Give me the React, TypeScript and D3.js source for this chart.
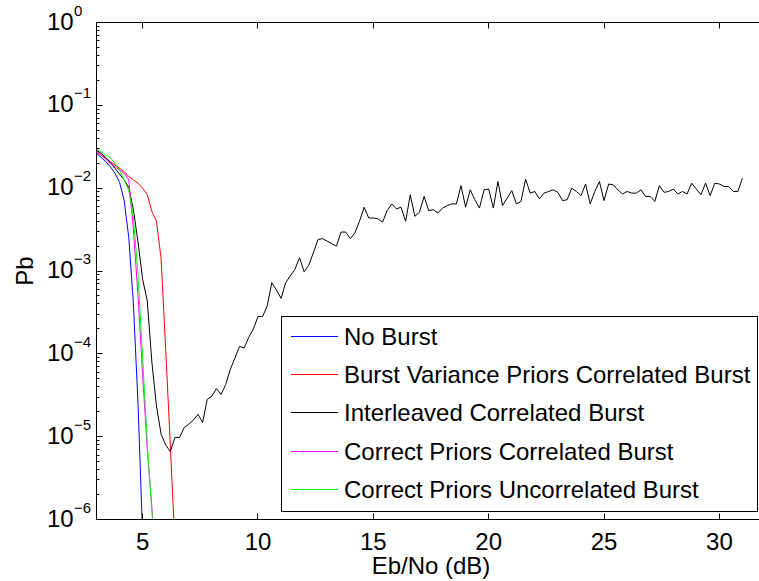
import React from "react";
import * as d3 from "d3";

// ---- data (Pb stored as log10 exponents) ----
const seriesNames = [
  "No Burst",
  "Burst Variance Priors Correlated Burst",
  "Interleaved Correlated Burst",
  "Correct Priors Correlated Burst",
  "Correct Priors Uncorrelated Burst",
];
const seriesColors = ["#0000ff", "#ff0000", "#000000", "#ff00ff", "#00ff00"];

const noBurstX = [3.0, 3.2, 3.4, 3.6, 3.8, 4.0, 4.2, 4.4, 4.6, 4.8, 5.0];
const noBurstLog = [-1.58, -1.63, -1.68, -1.74, -1.82, -1.93, -2.15, -2.6, -3.4, -4.6, -6.2];

const burstVarX = [3.0, 3.2, 3.4, 3.6, 3.8, 4.0, 4.2, 4.4, 4.6, 4.8, 5.0, 5.2, 5.4, 5.6, 5.8, 6.0, 6.2, 6.4];
const burstVarLog = [-1.57, -1.6, -1.64, -1.68, -1.72, -1.76, -1.8, -1.86, -1.9, -1.94, -2.0, -2.08, -2.28, -2.4, -2.85, -3.95, -5.1, -6.3];

const correctCorrX = [3.0, 3.2, 3.4, 3.6, 3.8, 4.0, 4.2, 4.4, 4.6, 4.8, 5.0, 5.2, 5.4, 5.6];
const correctCorrLog = [-1.55, -1.6, -1.65, -1.7, -1.74, -1.78, -1.82, -1.9, -2.5, -3.3, -4.25, -5.15, -5.85, -6.6];

const correctUncorrX = [3.0, 3.2, 3.4, 3.6, 3.8, 4.0, 4.2, 4.4, 4.6, 4.8, 5.0, 5.2, 5.4, 5.6];
const correctUncorrLog = [-1.53, -1.56, -1.6, -1.63, -1.7, -1.78, -1.9, -2.03, -2.35, -3.05, -4.05, -5.08, -5.9, -6.7];

// interleaved: Eb/No from 3.0 to 31.0 in 0.2 dB steps
const interleavedLog = [
  -1.54, -1.58, -1.63, -1.69, -1.76, -1.83, -1.9, -1.99, -2.26, -2.65,
  -3.1, -3.36, -4.1, -4.63, -4.97, -5.1, -5.18, -5.01, -5.01, -4.89,
  -4.85, -4.8, -4.73, -4.83, -4.55, -4.51, -4.42, -4.49, -4.37, -4.19,
  -4.05, -3.91, -3.93, -3.8, -3.7, -3.55, -3.55, -3.42, -3.14, -3.23,
  -3.33, -3.14, -3.06, -2.98, -2.84, -3.01, -2.93, -2.78, -2.62, -2.61,
  -2.64, -2.67, -2.7, -2.53, -2.53, -2.61, -2.54, -2.4, -2.23, -2.36,
  -2.36, -2.37, -2.41, -2.27, -2.19, -2.25, -2.23, -2.4, -2.08, -2.34,
  -2.29, -2.1, -2.27, -2.26, -2.3, -2.24, -2.21, -2.19, -2.19, -1.97,
  -2.23, -2.02, -2.14, -2.24, -2.02, -2.01, -2.24, -1.92, -2.21, -2.12,
  -2.03, -2.19, -2.16, -1.89, -2.06, -2.04, -2.13, -2.06, -2.04, -2.02,
  -2.05, -2.15, -2.14, -2.0, -2.04, -2.09, -1.95, -2.19, -2.04, -1.92,
  -2.15, -1.95, -1.96, -2.02, -2.07, -2.04, -2.06, -2.06, -2.02, -2.1,
  -2.1, -2.16, -1.97, -2.05, -2.04, -2.01, -2.07, -2.04, -2.07, -1.94,
  -2.01, -2.08, -1.94, -2.09, -1.94, -1.95, -1.98, -1.98, -2.04, -2.04,
  -1.88,
];
const interleavedX = interleavedLog.map((_, i) => 3 + i * 0.2);

const xTicks = [5, 10, 15, 20, 25, 30];
const yExponents = [0, -1, -2, -3, -4, -5, -6];

const xLabel = "Eb/No (dB)";
const yLabel = "Pb";

// ---- layout ----
const W = 759;
const H = 581;
const left = 96.5;
const top = 22.5;
const bottom = 519.5;
const xDomain = [3, 32];
const pxPerUnit = 23.07;
const right = left + (xDomain[1] - xDomain[0]) * pxPerUnit;
const FONT = "'Liberation Sans', Arial, Helvetica, sans-serif";
const snap = (v: number) => Math.round(v - 0.5) + 0.5;

export default function App() {
  const x = d3.scaleLinear().domain(xDomain).range([left, right]);
  const y = d3.scaleLog().domain([1e-6, 1]).range([bottom, top]);

  const series = [
    { xs: noBurstX, ls: noBurstLog },
    { xs: burstVarX, ls: burstVarLog },
    { xs: interleavedX, ls: interleavedLog },
    { xs: correctCorrX, ls: correctCorrLog },
    { xs: correctUncorrX, ls: correctUncorrLog },
  ];
  const line = d3
    .line<[number, number]>()
    .x((d) => x(d[0]))
    .y((d) => y(d[1]));

  const minorTicks: number[] = [];
  for (let e = -6; e < 0; e++) {
    for (let m = 2; m <= 9; m++) minorTicks.push(m * Math.pow(10, e));
  }

  const legLeft = 281.5;
  const legTop = 316.5;
  const legRight = 757.5;
  const legBottom = 511.5;
  const legRow0 = 336;
  const legStep = 38.2;

  return (
    <div style={{ position: "fixed", left: 0, top: 0, width: W, height: H, background: "#fff" }}>
      <svg width={W} height={H} style={{ display: "block" }} fontFamily={FONT}>
        <rect x={0} y={0} width={W} height={H} fill="#fff" />
        <defs>
          <clipPath id="plotClip">
            <rect x={left} y={top} width={right - left} height={bottom - top} />
          </clipPath>
        </defs>

        {/* series */}
        <g clipPath="url(#plotClip)" fill="none" strokeWidth={1}>
          {series.map((s, i) => {
            const pts = s.xs.map((xv, k) => [xv, Math.pow(10, s.ls[k])] as [number, number]);
            return <path key={i} d={line(pts) || ""} stroke={seriesColors[i]} strokeLinejoin="round" />;
          })}
        </g>

        {/* axes box */}
        <rect x={left} y={top} width={right - left} height={bottom - top} fill="none" stroke="#000" strokeWidth={1} />

        {/* x ticks */}
        {xTicks.map((t) => (
          <g key={t}>
            <line x1={snap(x(t))} x2={snap(x(t))} y1={bottom} y2={bottom - 6} stroke="#000" />
            <line x1={snap(x(t))} x2={snap(x(t))} y1={top} y2={top + 6} stroke="#000" />
            <text x={x(t)} y={bottom + 30} fontSize={24} textAnchor="middle" fill="#000">
              {t}
            </text>
          </g>
        ))}

        {/* y ticks */}
        {yExponents.map((e) => {
          const ty = y(Math.pow(10, e));
          return (
            <g key={e}>
              <line x1={left} x2={left + 6} y1={snap(ty)} y2={snap(ty)} stroke="#000" />
              <line x1={right} x2={right - 6} y1={snap(ty)} y2={snap(ty)} stroke="#000" />
              <text x={47} y={ty + 7} fontSize={24} fill="#000">
                10
              </text>
              <text x={74} y={ty - 7} fontSize={15} fill="#000">
                {e === 0 ? "0" : "\u2212" + Math.abs(e)}
              </text>
            </g>
          );
        })}
        {minorTicks.map((v, i) => (
          <g key={"m" + i}>
            <line x1={left} x2={left + 3} y1={snap(y(v))} y2={snap(y(v))} stroke="#000" />
            <line x1={right} x2={right - 3} y1={snap(y(v))} y2={snap(y(v))} stroke="#000" />
          </g>
        ))}

        {/* axis labels */}
        <text x={(left + right) / 2} y={574} fontSize={24} textAnchor="middle" fill="#000">
          {xLabel}
        </text>
        <text
          transform={`translate(33, ${(top + bottom) / 2}) rotate(-90)`}
          fontSize={24}
          textAnchor="middle"
          fill="#000"
        >
          {yLabel}
        </text>

        {/* legend */}
        <rect x={legLeft} y={legTop} width={legRight - legLeft} height={legBottom - legTop} fill="#fff" stroke="#000" strokeWidth={1} />
        {seriesNames.map((name, i) => {
          const ly = Math.round(legRow0 + i * legStep) + 0.5;
          return (
            <g key={name}>
              <line x1={291} x2={338} y1={ly} y2={ly} stroke={seriesColors[i]} strokeWidth={1} />
              <text x={344} y={ly + 8.5} fontSize={24} fill="#000">
                {name}
              </text>
            </g>
          );
        })}
      </svg>
    </div>
  );
}
